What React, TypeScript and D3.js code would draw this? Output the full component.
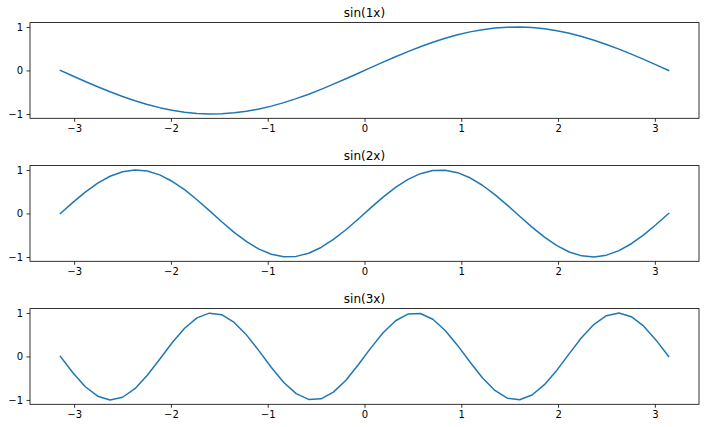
import React, { useEffect, useRef } from 'react';
import * as d3 from 'd3';

// 50 samples over [-pi, pi]
const xs = [
  -3.142, -3.013, -2.885, -2.757, -2.629, -2.500, -2.372, -2.244, -2.116, -1.988,
  -1.859, -1.731, -1.603, -1.475, -1.347, -1.218, -1.090, -0.962, -0.834, -0.706,
  -0.577, -0.449, -0.321, -0.192, -0.064, 0.064, 0.192, 0.321, 0.449, 0.577,
  0.706, 0.834, 0.962, 1.090, 1.218, 1.347, 1.475, 1.603, 1.731, 1.859,
  1.988, 2.116, 2.244, 2.372, 2.500, 2.629, 2.757, 2.885, 3.013, 3.142,
];

const sin1 = [
  0, -0.128, -0.254, -0.375, -0.491, -0.598, -0.696, -0.782, -0.855, -0.914,
  -0.959, -0.987, -1.000, -0.995, -0.975, -0.938, -0.887, -0.820, -0.740, -0.648,
  -0.546, -0.434, -0.315, -0.191, -0.064, 0.064, 0.191, 0.315, 0.434, 0.546,
  0.648, 0.740, 0.820, 0.887, 0.938, 0.975, 0.995, 1.000, 0.987, 0.959,
  0.914, 0.855, 0.782, 0.696, 0.598, 0.491, 0.375, 0.254, 0.128, 0,
];

const sin2 = [
  0, 0.254, 0.491, 0.696, 0.855, 0.959, 1.000, 0.975, 0.887, 0.740,
  0.546, 0.315, 0.064, -0.191, -0.434, -0.648, -0.820, -0.938, -0.995, -0.987,
  -0.914, -0.782, -0.598, -0.375, -0.128, 0.128, 0.375, 0.598, 0.782, 0.914,
  0.987, 0.995, 0.938, 0.820, 0.648, 0.434, 0.191, -0.064, -0.315, -0.546,
  -0.740, -0.887, -0.975, -1.000, -0.959, -0.855, -0.696, -0.491, -0.254, 0,
];

const sin3 = [
  0, -0.375, -0.696, -0.914, -1.000, -0.938, -0.740, -0.434, -0.064, 0.315,
  0.648, 0.887, 0.995, 0.959, 0.782, 0.491, 0.128, -0.254, -0.598, -0.855,
  -0.987, -0.975, -0.820, -0.546, -0.191, 0.191, 0.546, 0.820, 0.975, 0.987,
  0.855, 0.598, 0.254, -0.128, -0.491, -0.782, -0.959, -0.995, -0.887, -0.648,
  -0.315, 0.064, 0.434, 0.740, 0.938, 1.000, 0.914, 0.696, 0.375, 0,
];

const titles = ['sin(1x)', 'sin(2x)', 'sin(3x)'];
const seriesList = [sin1, sin2, sin3];
const xTicks = [-3, -2, -1, 0, 1, 2, 3];
const yTicks = [-1, 0, 1];

const W = 705;
const H = 427;

const App = () => {
  const ref = useRef(null);

  useEffect(() => {
    const svg = d3.select(ref.current);
    svg.selectAll('*').remove();

    const left = 30;
    const right = 699;
    const panelTops = [22.6, 165.6, 308.6];
    const panelH = 95.7;
    const font = 'DejaVu Sans, sans-serif';
    const fmt = (d) => (d < 0 ? '\u2212' + Math.abs(d) : String(d));

    // matplotlib default margins: 5% on x, 5% on y
    const xPad = (xs[xs.length - 1] - xs[0]) * 0.05;
    const x = d3.scaleLinear()
      .domain([xs[0] - xPad, xs[xs.length - 1] + xPad])
      .range([left, right]);

    seriesList.forEach((vals, k) => {
      const top = panelTops[k];
      const bottom = top + panelH;
      const yPad = (d3.max(vals) - d3.min(vals)) * 0.05;
      const y = d3.scaleLinear()
        .domain([d3.min(vals) - yPad, d3.max(vals) + yPad])
        .range([bottom, top]);

      const g = svg.append('g');

      const line = d3.line()
        .x((d, i) => x(xs[i]))
        .y(d => y(d));

      g.append('path')
        .datum(vals)
        .attr('fill', 'none')
        .attr('stroke', '#1f77b4')
        .attr('stroke-width', 1.5)
        .attr('stroke-linejoin', 'round')
        .attr('stroke-linecap', 'square')
        .attr('d', line);

      // x axis
      const xAxis = g.append('g')
        .attr('transform', `translate(0,${bottom})`)
        .call(d3.axisBottom(x).tickValues(xTicks).tickSize(3.5).tickPadding(3.5).tickFormat(fmt));
      // y axis
      const yAxis = g.append('g')
        .attr('transform', `translate(${left},0)`)
        .call(d3.axisLeft(y).tickValues(yTicks).tickSize(3.5).tickPadding(3.5).tickFormat(fmt));

      [xAxis, yAxis].forEach(ax => {
        ax.select('.domain').remove();
        ax.selectAll('line').attr('stroke', '#000').attr('stroke-width', 0.8);
        ax.selectAll('text')
          .attr('fill', '#000')
          .style('font-family', font)
          .style('font-size', '10px');
      });

      // frame
      g.append('rect')
        .attr('x', left)
        .attr('y', top)
        .attr('width', right - left)
        .attr('height', panelH)
        .attr('fill', 'none')
        .attr('stroke', '#000')
        .attr('stroke-width', 0.8);

      g.append('text')
        .attr('x', (left + right) / 2)
        .attr('y', top - 5.8)
        .attr('text-anchor', 'middle')
        .style('font-family', font)
        .style('font-size', '12px')
        .text(titles[k]);
    });
  }, []);

  return (
    <div style={{ position: 'absolute', left: 0, top: 0 }}>
      <svg ref={ref} width={W} height={H} style={{ display: 'block', background: '#fff' }}></svg>
    </div>
  );
};

export default App;
